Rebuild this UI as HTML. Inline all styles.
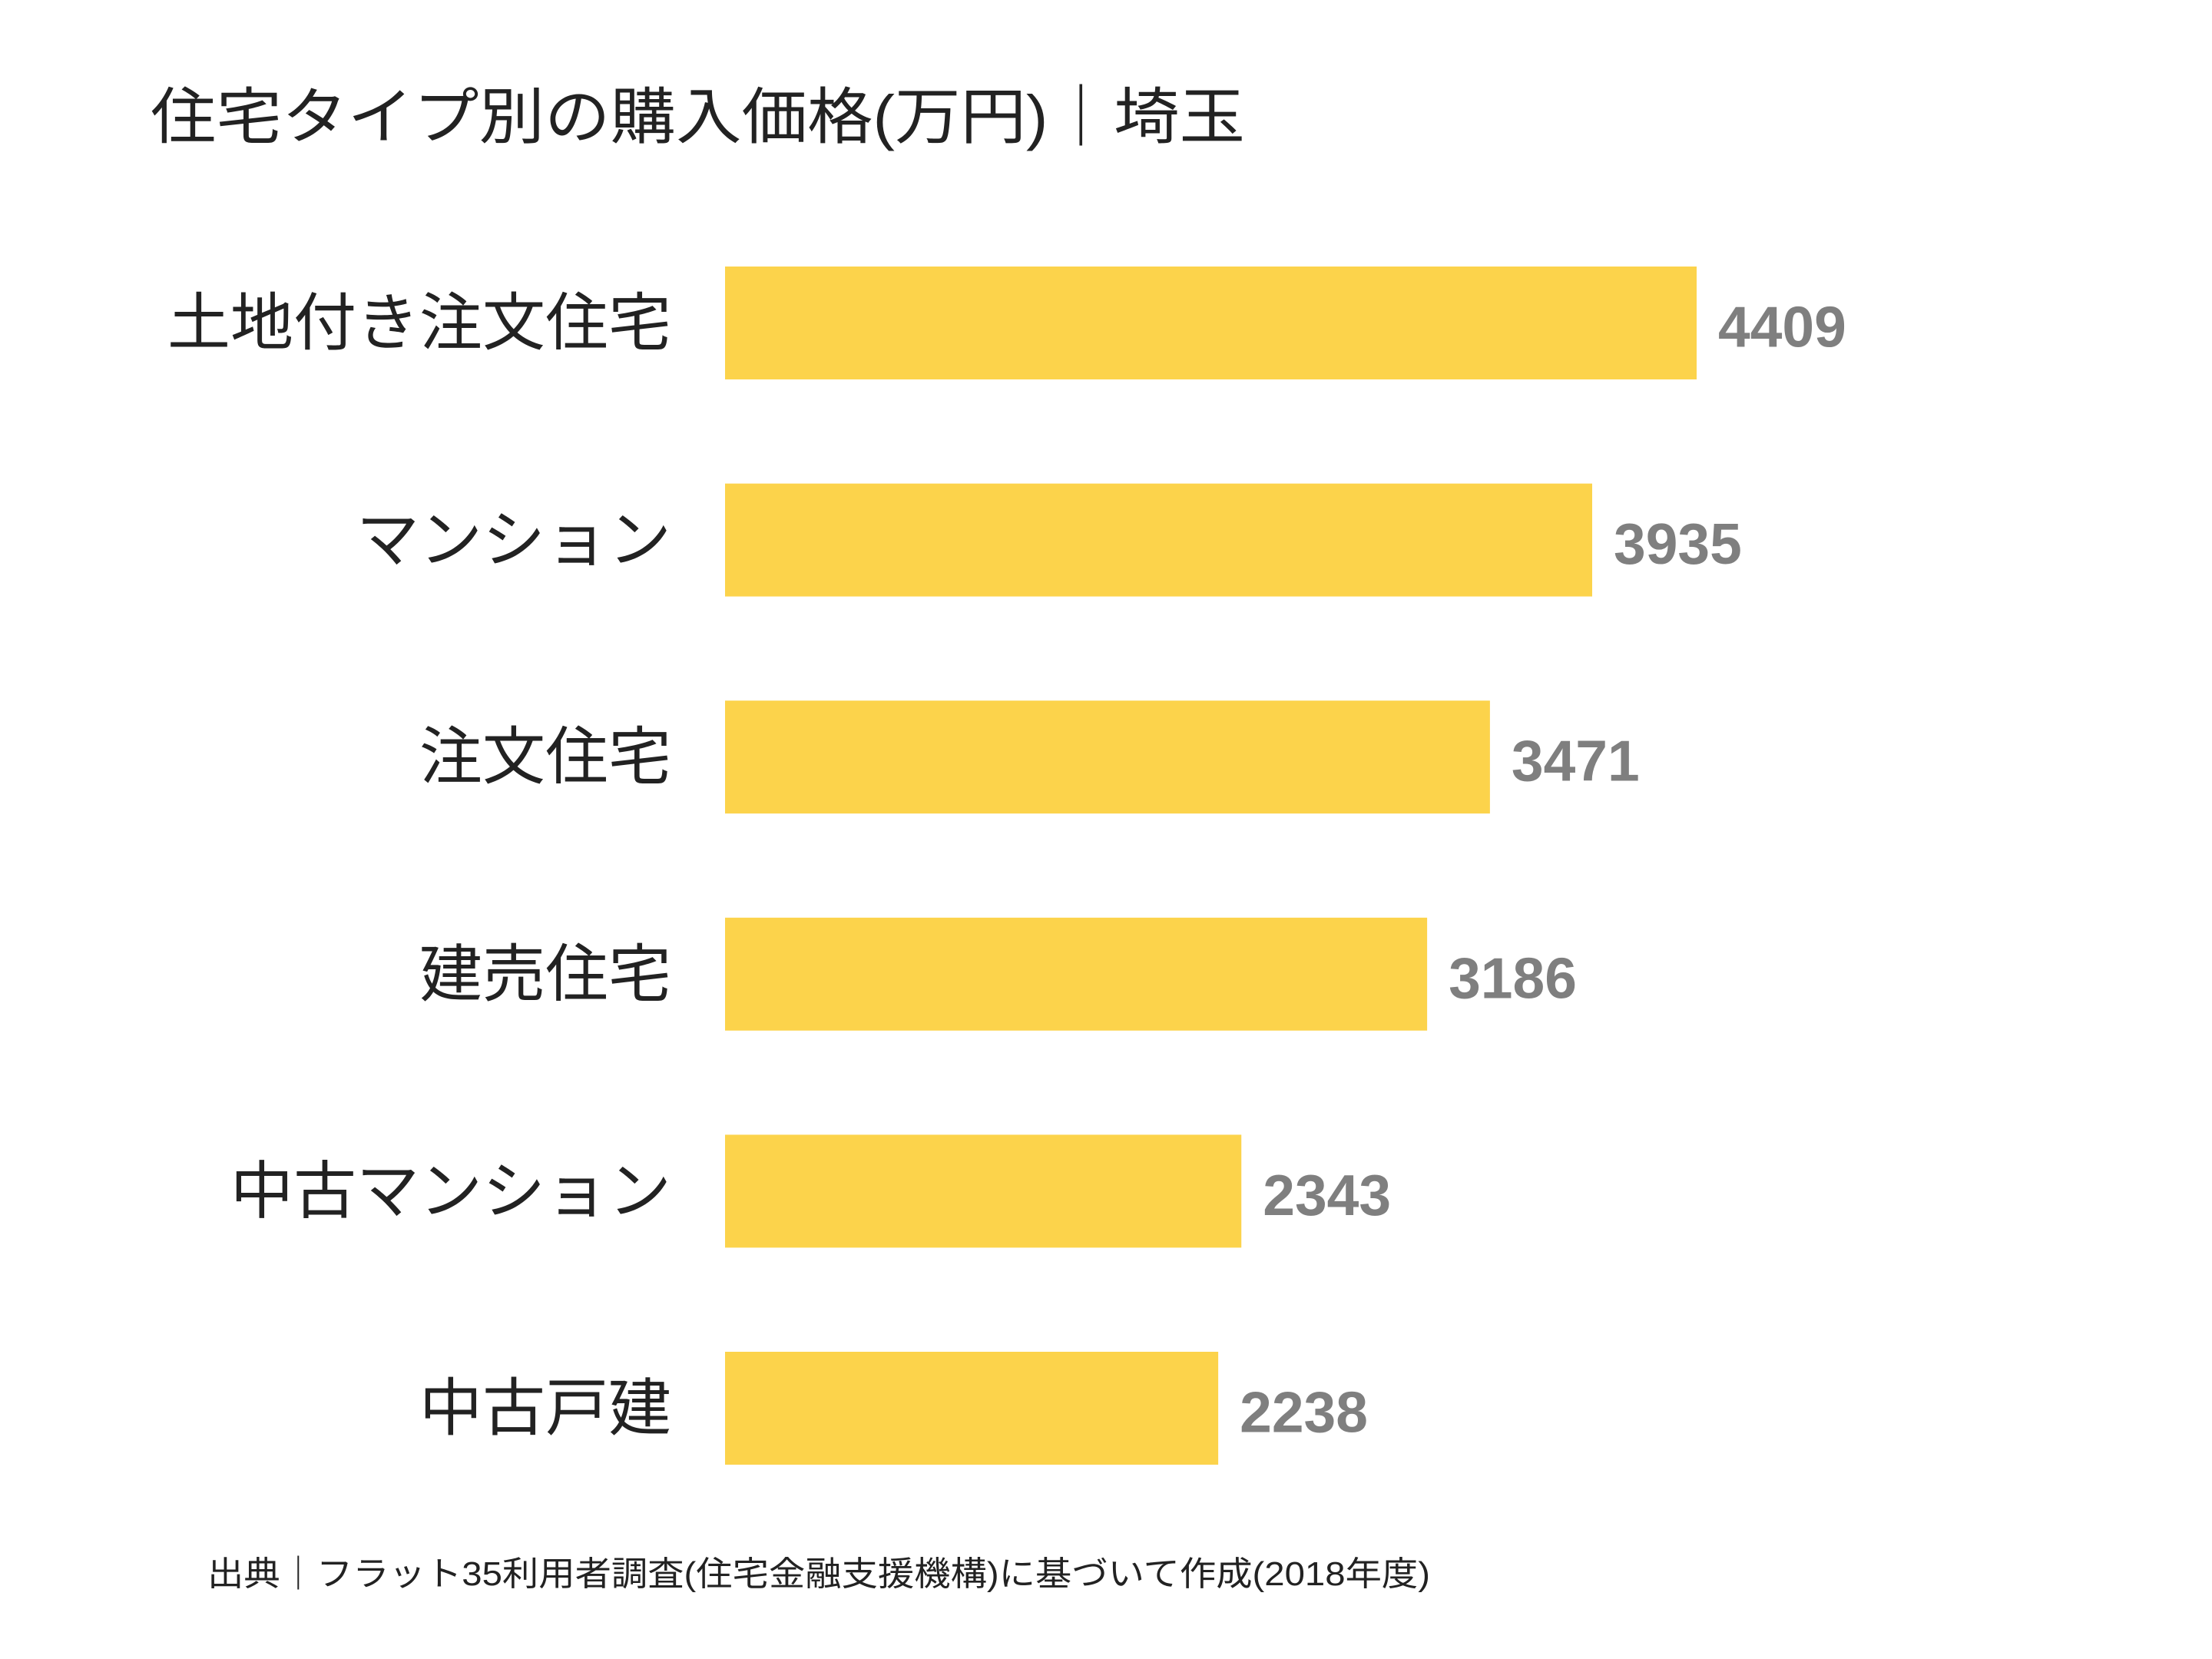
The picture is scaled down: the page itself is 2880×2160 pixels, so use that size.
<!DOCTYPE html>
<html><head><meta charset="utf-8"><style>
html,body{margin:0;padding:0;background:#fff;}
svg{display:block;}
</style></head><body>
<svg id="chart" width="2880" height="2160" viewBox="0 0 2880 2160" xmlns="http://www.w3.org/2000/svg">
<rect width="2880" height="2160" fill="#fff"/>
<text x="196" y="180" font-family="'Liberation Sans','Noto Sans CJK JP',sans-serif" font-size="80" fill="#222" textLength="1425" lengthAdjust="spacingAndGlyphs">住宅タイプ別の購入価格(万円)｜埼玉</text>
<g id="bars"></g>
<text x="270" y="2064" font-family="'Liberation Sans','Noto Sans CJK JP',sans-serif" font-size="44" fill="#222" textLength="1592" lengthAdjust="spacingAndGlyphs">出典｜フラット35利用者調査(住宅金融支援機構)に基づいて作成(2018年度)</text>
</svg>
<script>
const categories = ["土地付き注文住宅","マンション","注文住宅","建売住宅","中古マンション","中古戸建"];
const values = [4409,3935,3471,3186,2343,2238];
const labels = ["4409","3935","3471","3186","2343","2238"];

const NS = "http://www.w3.org/2000/svg";
const x0 = 944, pxPerUnit = 1265/4409;
const y0 = 347, pitch = 282.6, barH = 147;
function xScale(v){ return x0 + v*pxPerUnit; }
function yScale(i){ return y0 + i*pitch; }
const g = document.getElementById('bars');
categories.forEach((c,i)=>{
  const y = yScale(i);
  const r = document.createElementNS(NS,'rect');
  
  
  r.setAttribute('x', x0);
  r.setAttribute('y', y);
  r.setAttribute('width', xScale(values[i]) - x0);
  r.setAttribute('height', barH);
  r.setAttribute('fill', '#FCD34B');
  g.appendChild(r);
  const t = document.createElementNS(NS,'text');
  
  
  t.setAttribute('x', 874);
  t.setAttribute('y', y + barH/2 + 28);
  t.setAttribute('text-anchor', 'end');
  t.setAttribute('font-family', "'Liberation Sans','Noto Sans CJK JP',sans-serif");
  t.setAttribute('font-size', '82');
  t.setAttribute('fill', '#222');
  t.textContent = c;
  g.appendChild(t);
  const v = document.createElementNS(NS,'text');
  
  
  v.setAttribute('x', xScale(values[i]) + 28);
  v.setAttribute('y', y + barH/2 + 31);
  v.setAttribute('font-family', "'Liberation Sans',sans-serif");
  v.setAttribute('font-weight', 'bold');
  v.setAttribute('font-size', '75');
  v.setAttribute('fill', '#7f7f7f');
  v.textContent = labels[i];
  g.appendChild(v);
});
</script>
</body></html>
